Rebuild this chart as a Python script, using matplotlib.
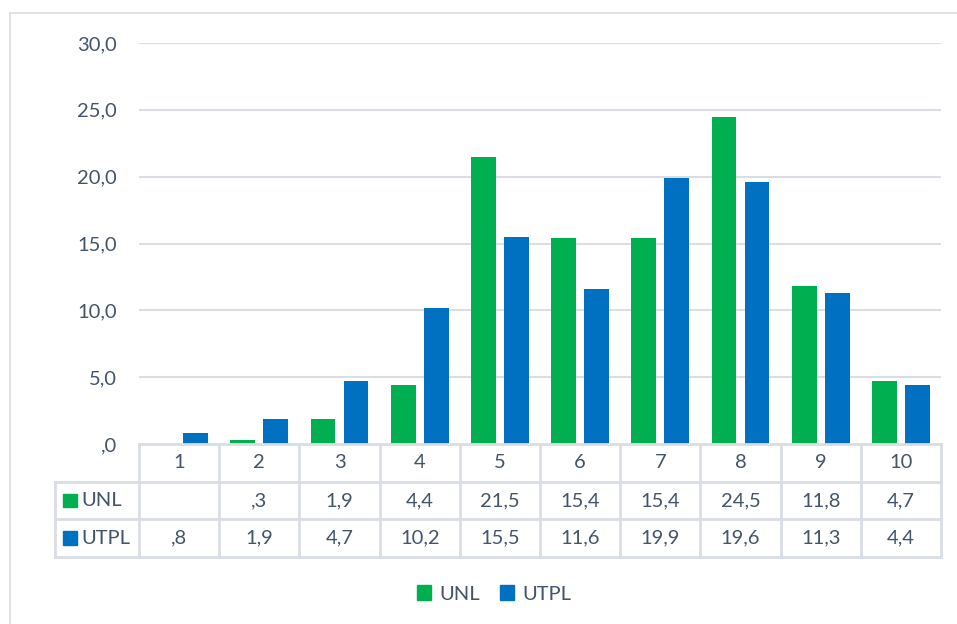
import numpy as np
import matplotlib.pyplot as plt
from matplotlib.patches import Rectangle
from matplotlib.lines import Line2D

# Data
categories = ['1', '2', '3', '4', '5', '6', '7', '8', '9', '10']
unl = [np.nan, 0.3, 1.9, 4.4, 21.5, 15.4, 15.4, 24.5, 11.8, 4.7]
utpl = [0.8, 1.9, 4.7, 10.2, 15.5, 11.6, 19.9, 19.6, 11.3, 4.4]
series_names = ['UNL', 'UTPL']
yticks = [0, 5, 10, 15, 20, 25, 30]

GREEN = '#00B050'
BLUE = '#0070C0'
TEXT = '#44546A'
GRID = '#D9DDE4'
FS = 14.5

W, H = 957, 624
plt.rcParams['font.family'] = ['Lato', 'DejaVu Sans']


# Excel-style number label: comma decimal, leading zero dropped
def fmt(v):
    if v is None or np.isnan(v):
        return ''
    s = f'{v:.1f}'.replace('.', ',')
    if s.startswith('0'):
        s = s[1:]
    return s


def fx(px):
    return px / W


def fy(py):
    return 1 - py / H


fig = plt.figure(figsize=(W / 100, H / 100), dpi=100)

# outer chart frame (only left and top visible)
fig.add_artist(Line2D([fx(10), fx(10)], [fy(13), 0], color=GRID, lw=1.2))
fig.add_artist(Line2D([fx(10), 1], [fy(13), fy(13)], color=GRID, lw=1.2))

# main plot area
left, right, top, bottom = 139, 941, 43, 444
ax = fig.add_axes([fx(left), fy(bottom), fx(right - left), (bottom - top) / H])
n = len(categories)
x = np.arange(1, n + 1)
bw = 0.31
ax.bar(x - 0.205, unl, width=bw, color=GREEN, zorder=3)
ax.bar(x + 0.205, utpl, width=bw, color=BLUE, zorder=3)
ax.set_xlim(0.5, n + 0.5)
ax.set_ylim(0, 30)
ax.set_yticks(yticks)
ax.set_yticklabels([fmt(v) if v else ',0' for v in yticks])
for t in yticks[1:]:
    ax.axhline(t, color=GRID, lw=1.5, zorder=1)
ax.set_xticks([])
ax.tick_params(axis='y', length=0, pad=16, labelsize=FS, labelcolor=TEXT)
for s in ax.spines.values():
    s.set_visible(False)

# data table below
tleft, ttop, tbot = 55, 444, 557
tab = fig.add_axes([fx(tleft), fy(tbot), fx(right - tleft), (tbot - ttop) / H])
cat_px = (right - left) / n
x0 = 0.5 - (left - tleft) / cat_px
tab.set_xlim(x0, n + 0.5)
tab.set_ylim(3, 0)
tab.axis('off')

lc = dict(color=GRID, lw=2, clip_on=False)
# horizontal lines
tab.plot([0.5, n + 0.5], [0, 0], **lc)
for r in (1, 2, 3):
    tab.plot([x0, n + 0.5], [r, r], **lc)
# vertical lines
tab.plot([x0, x0], [1, 3], **lc)
for i in range(n + 1):
    tab.plot([0.5 + i, 0.5 + i], [0, 3], **lc)

tkw = dict(ha='center', va='center', fontsize=FS, color=TEXT)
for i, c in enumerate(categories):
    tab.text(x[i], 0.5, c, **tkw)
for r, (name, vals, col) in enumerate(zip(series_names, [unl, utpl], [GREEN, BLUE])):
    yy = r + 1.5
    tab.add_patch(Rectangle((x0 + 0.1, yy - 0.18), 0.17, 0.36, color=col, clip_on=False))
    tab.text(x0 + 0.33, yy, name, ha='left', va='center', fontsize=FS, color=TEXT)
    for i, v in enumerate(vals):
        tab.text(x[i], yy, fmt(v), **tkw)

# legend
handles = [Rectangle((0, 0), 1, 1, color=GREEN), Rectangle((0, 0), 1, 1, color=BLUE)]
fig.legend(handles, series_names, loc='center', bbox_to_anchor=(fx(494), fy(594)),
           ncol=2, frameon=False, fontsize=FS, labelcolor=TEXT,
           handlelength=0.7, handleheight=0.7, handletextpad=0.4, columnspacing=1.0)

fig.savefig('out.png', dpi=100, facecolor='white')
